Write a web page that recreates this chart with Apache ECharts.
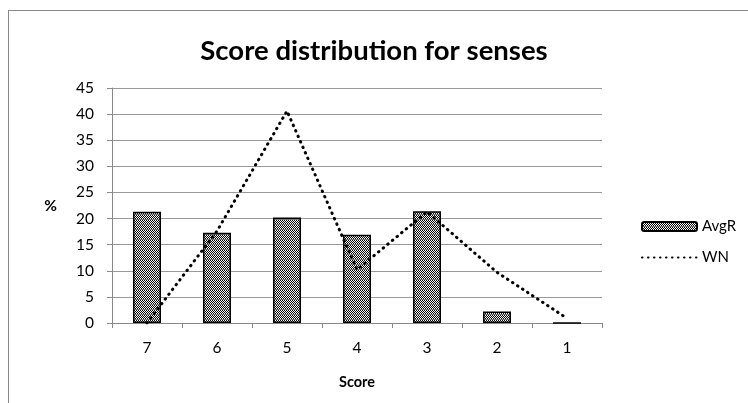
<!doctype html>
<html lang="en">
<head>
<meta charset="UTF-8">
<title>Score distribution for senses</title>
<style>
  html, body { margin: 0; padding: 0; background: #fff; }
  #frame { position: absolute; left: 8px; top: 10px; width: 760px; height: 420px; border: 1.5px solid #888; box-sizing: border-box; }
  #main { position: absolute; left: 0; top: 0; width: 748px; height: 403px; }
</style>
</head>
<body>
<div id="frame"></div>
<div id="main"></div>
<script src="https://cdn.jsdelivr.net/npm/echarts@6/dist/echarts.min.js"></script>
<script>
// data
var scores = ['7', '6', '5', '4', '3', '2', '1'];
var avgR = [21.3, 17.3, 20.2, 16.9, 21.4, 2.2, 0];
var wn = [0, 17.6, 40.6, 10.2, 21.3, 9.7, 0.9];
var yTicks = [0, 45, 5];

// dithered grey fill like the original
function makePattern() {
    var c = document.createElement('canvas');
    c.width = 2; c.height = 5;
    var ctx = c.getContext('2d');
    ctx.fillStyle = '#ffffff';
    ctx.fillRect(0, 0, 2, 5);
    ctx.fillStyle = '#000000';
    ctx.fillRect(0, 0, 1, 1); ctx.fillRect(1, 1, 1, 1);
    ctx.fillRect(0, 2, 1, 1); ctx.fillRect(1, 3, 1, 1);
    ctx.fillStyle = '#777777';
    ctx.fillRect(0, 4, 2, 1);
    return c;
}
var pattern = { image: makePattern(), repeat: 'repeat' };

var font = 'Lato, "Open Sans", sans-serif';
var myChart = echarts.init(document.getElementById('main'), null, { renderer: 'canvas' });
var option = {
    animation: false,
    textStyle: { fontFamily: font },
    title: {
        text: 'Score distribution for senses',
        left: 'center',
        top: 32,
        textStyle: { fontSize: 27.5, fontWeight: 'bold', color: '#000', fontFamily: font }
    },
    legend: {
        orient: 'vertical',
        left: 636,
        top: 214,
        itemWidth: 55,
        itemHeight: 9,
        itemGap: 16,
        textStyle: { fontSize: 15, color: '#000', fontFamily: font },
        data: ['AvgR', 'WN']
    },
    grid: { left: 112, right: 146, top: 88, bottom: 80, containLabel: false },
    xAxis: {
        type: 'category',
        data: scores,
        name: 'Score',
        nameLocation: 'middle',
        nameGap: 52,
        nameTextStyle: { fontSize: 14.5, fontWeight: 'bold', color: '#000' },
        axisLine: { lineStyle: { color: '#888', width: 1 } },
        axisTick: { show: true, length: 5, lineStyle: { color: '#888' } },
        axisLabel: { fontSize: 15.5, color: '#000', margin: 17 }
    },
    yAxis: {
        type: 'value',
        min: yTicks[0],
        max: yTicks[1],
        interval: yTicks[2],
        name: '%',
        nameLocation: 'middle',
        nameRotate: 0,
        nameGap: 55,
        nameTextStyle: { fontSize: 15.5, fontWeight: 'bold', color: '#000', padding: [12, 0, 0, 0] },
        axisLine: { show: true, lineStyle: { color: '#888', width: 1 } },
        axisTick: { show: true, length: 5, lineStyle: { color: '#888' } },
        axisLabel: { fontSize: 15.5, color: '#000', margin: 18 },
        splitLine: { lineStyle: { color: '#999', width: 1 } }
    },
    series: [
        {
            name: 'AvgR',
            type: 'bar',
            data: avgR,
            barWidth: 28,
            itemStyle: { color: pattern, borderColor: '#000', borderWidth: 1.5 }
        },
        {
            name: 'WN',
            type: 'line',
            data: wn,
            symbol: 'none',
            lineStyle: { color: '#000', width: 3, type: [0.5, 5.5], cap: 'round' },
            itemStyle: { color: 'rgba(0,0,0,0)' }
        }
    ]
};
myChart.setOption(option);
</script>
</body>
</html>
